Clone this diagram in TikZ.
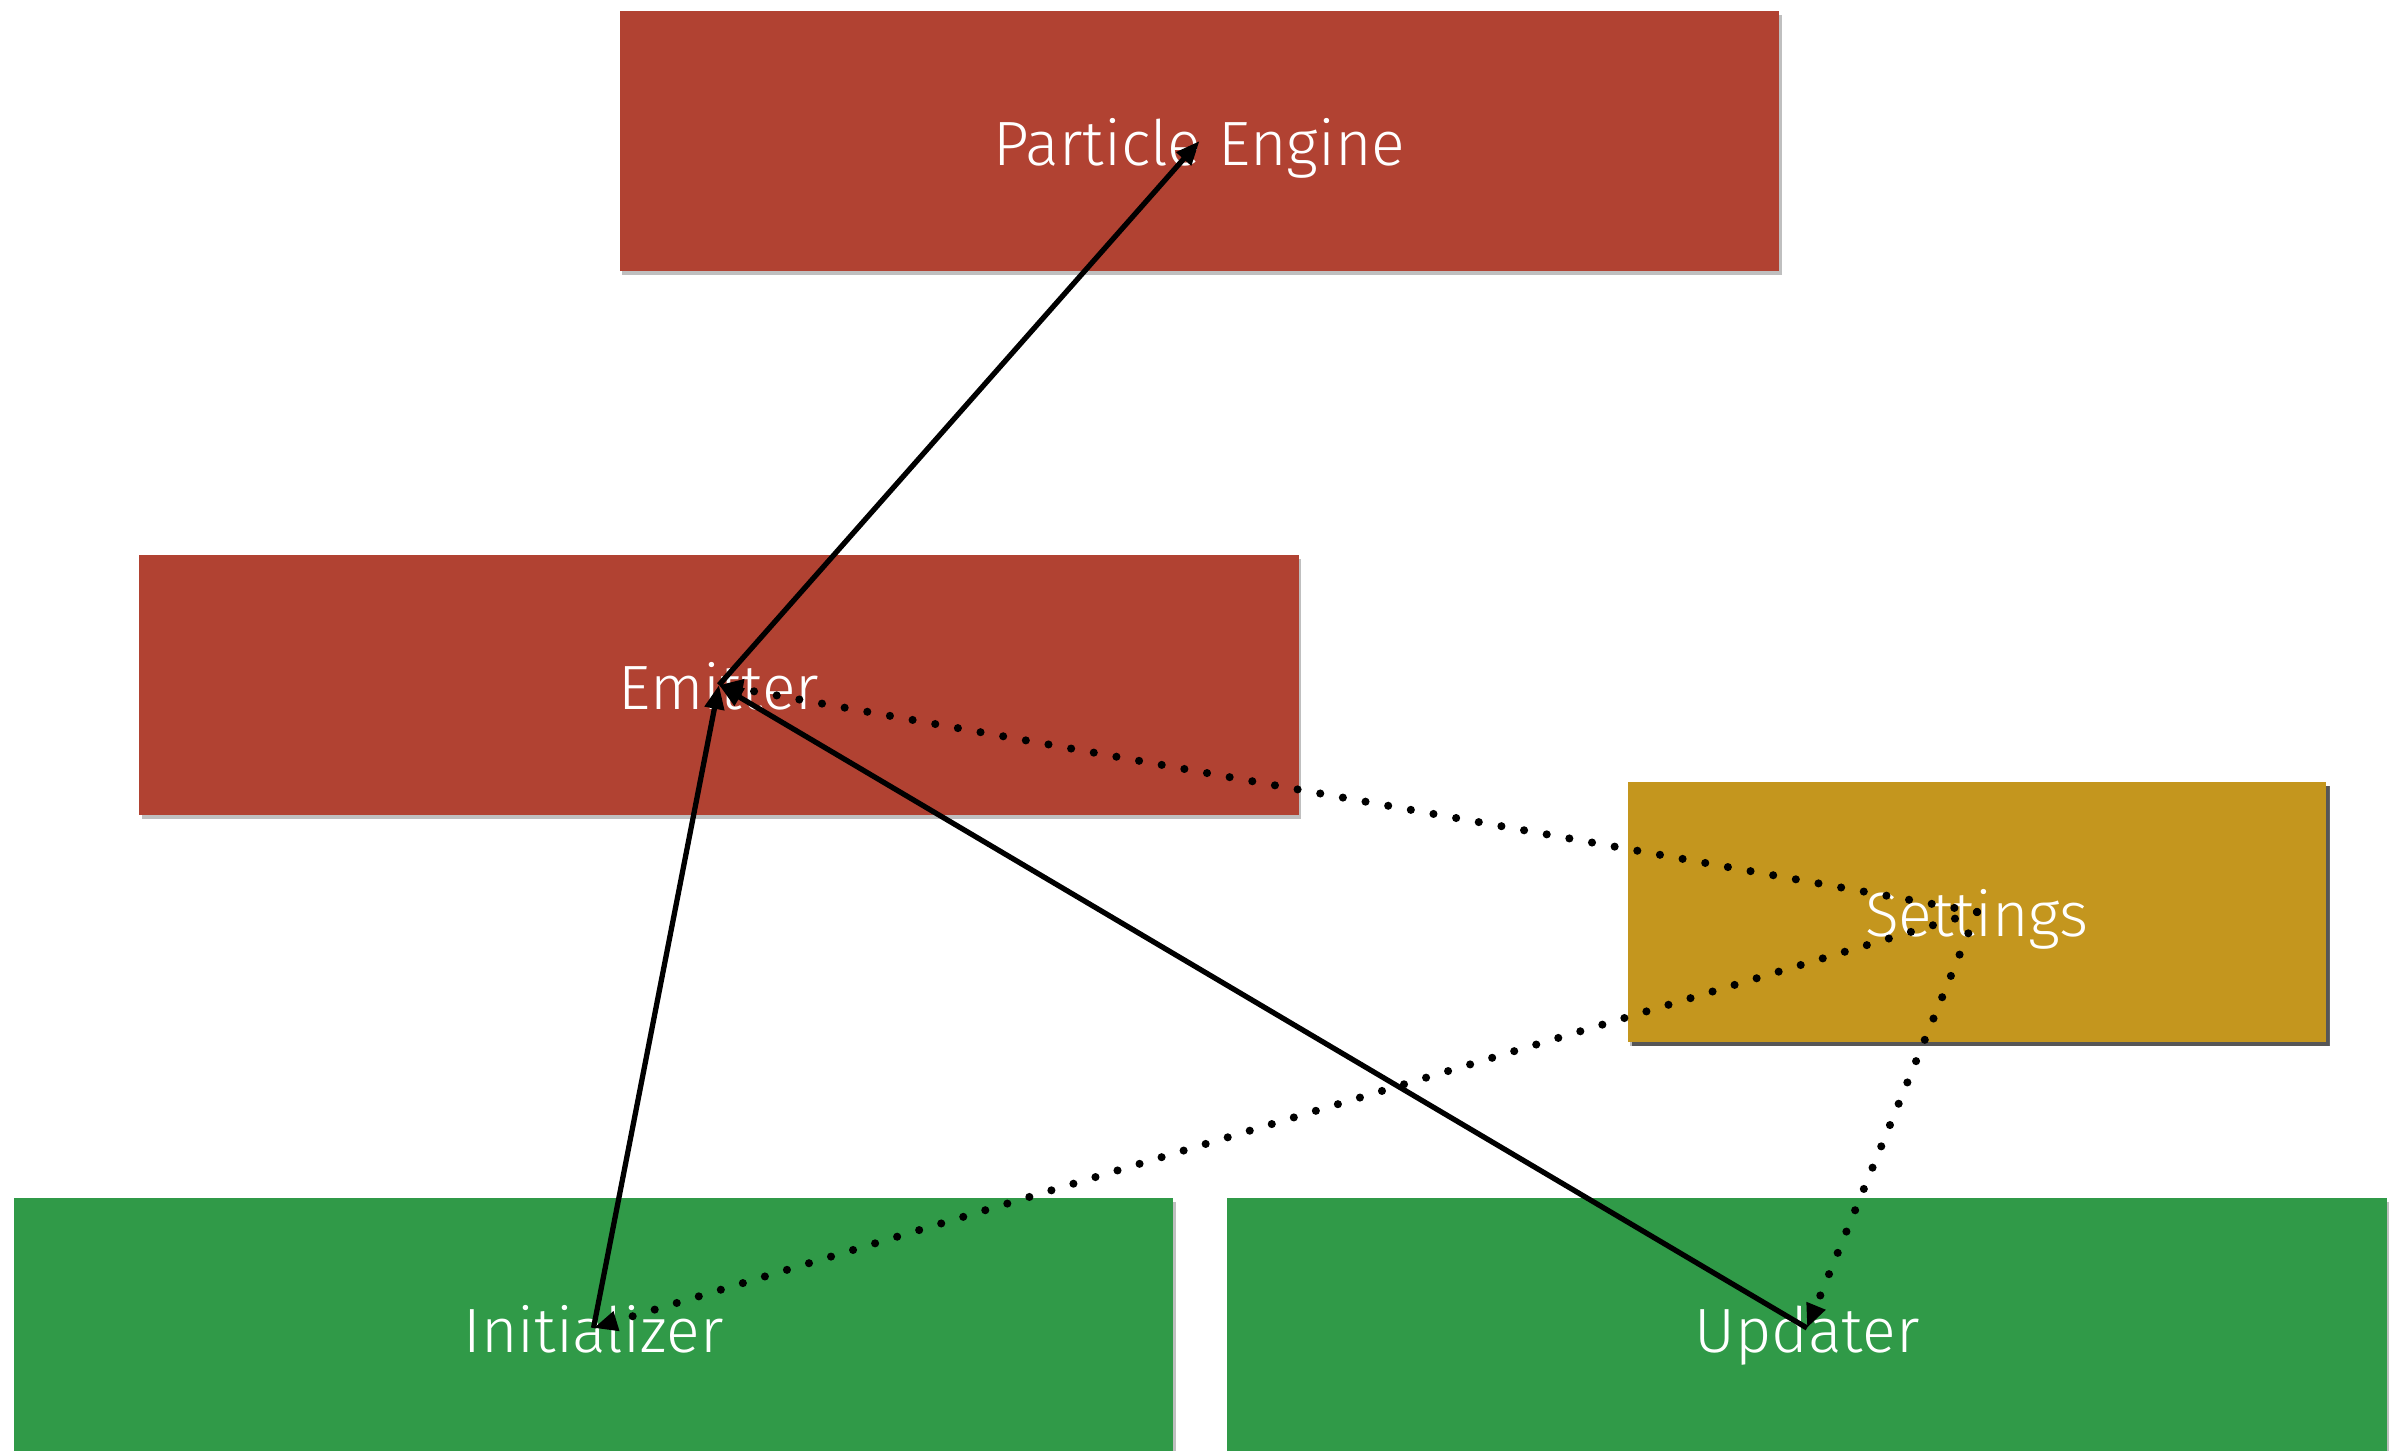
\documentclass[tikz,border=0pt]{standalone}
\usepackage{fontspec}
\setmainfont{Fira Sans Light}
\usetikzlibrary{arrows.meta,shadows}

\definecolor{brick}{RGB}{177,66,50}
\definecolor{leaf}{RGB}{48,154,72}
\definecolor{ochre}{RGB}{196,150,30}

\tikzset{
  card/.style={draw=none, minimum width=11.59cm, minimum height=2.6cm,
    text=white, font=\fontsize{17.8}{20}\selectfont, inner sep=0pt,
    text height=13.8pt, text depth=0pt,
    drop shadow={shadow xshift=0.7pt, shadow yshift=-1.2pt, opacity=0.5}},
  smallcard/.style={card, minimum width=6.98cm,
    drop shadow={shadow xshift=1.2pt, shadow yshift=-1.2pt, opacity=0.75, fill=black!80}},
  link/.style={line width=1.5pt, -{Triangle[length=0.24cm,width=0.19cm]}},
  dotlink/.style={line width=2.3pt, line cap=round, dash pattern=on 0pt off 0.23cm,
    -{Triangle[length=0.24cm,width=0.19cm]}},
}

\begin{document}
\begin{tikzpicture}[x=0.01cm,y=-0.01cm]
  \useasboundingbox (0,0) rectangle (2399,1451);

  \node[card, fill=brick] (engine) at (1199.5,141) {Particle Engine};
  \node[card, fill=brick] (emitter) at (719,685) {Emitter};
  \node[smallcard, fill=ochre] (settings) at (1977,912) {Settings};
  \node[card, fill=leaf] (init) at (593.5,1328) {Initializer};
  \node[card, fill=leaf] (updater) at (1807,1328) {Updater};

  \draw[link] (emitter.center) -- (engine.center);
  \draw[link] (init.center) -- (emitter.center);
  \draw[link] (updater.center) -- (emitter.center);

  \draw[dotlink] (settings.center) -- (emitter.center);
  \draw[dotlink] (settings.center) -- (init.center);
  \draw[dotlink] (settings.center) -- (updater.center);
\end{tikzpicture}
\end{document}
